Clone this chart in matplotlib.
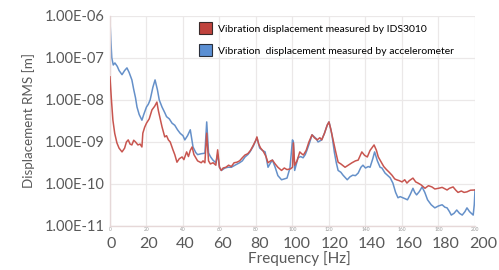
import matplotlib
matplotlib.use('Agg')
import matplotlib.pyplot as plt
from matplotlib.patches import Patch

plt.rcParams['font.family'] = ['Lato', 'DejaVu Sans']

# frequency [Hz] / RMS displacement [m]
freq_ids = [0, 0.8, 1.6, 2.6, 3.8, 5, 6.6, 8, 9, 10,
            11, 12, 13, 14, 15.3, 16.5, 17.5, 18, 19, 20,
            21.5, 23, 24.5, 25.7, 26.5, 27.5, 28.5, 30, 31, 32,
            33, 34.5, 35.5, 36.7, 38, 39.5, 40.5, 42, 43, 44,
            45, 46, 47, 48, 50, 51, 52, 53, 54, 55,
            56.5, 58, 59, 60, 61, 62, 63.5, 65, 66.5, 68,
            69.6, 71, 72.5, 74, 75.5, 77, 78.5, 80, 80.5, 81.5,
            82.5, 84, 85.5, 86.6, 88, 89, 90.5, 92, 94, 95.5,
            97, 99, 100, 100.5, 101.2, 102.5, 104, 105, 106, 107.5,
            109, 110.7, 112, 113.5, 115, 116, 117.5, 119, 120, 121,
            122, 123.5, 125, 126.5, 128.8, 130.5, 132.6, 134.5, 136, 138,
            139.5, 141, 142.5, 144.7, 146, 147, 148, 150, 151.5, 153,
            154.5, 156, 157, 158.5, 160, 161.5, 162.7, 164, 166, 167.5,
            168.8, 170.5, 172.6, 174.5, 176.4, 178, 180, 182, 184.7, 186,
            188, 189.5, 190.7, 192.5, 194, 195.6, 197.5, 200]
disp_ids = [3.55e-8, 1.0e-8, 3.3e-9, 1.6e-9, 9.5e-10, 7.1e-10, 5.8e-10, 7.1e-10, 1.0e-9, 1.12e-9,
            8.9e-10, 8.5e-10, 1.1e-9, 1.0e-9, 8.5e-10, 8.9e-10, 7.6e-10, 1.62e-9, 2.24e-9, 2.8e-9,
            3.55e-9, 5.8e-9, 7.1e-9, 8.9e-9, 5.6e-9, 3.55e-9, 2.3e-9, 1.32e-9, 1.41e-9, 1.12e-9,
            1.0e-9, 6.5e-10, 5.0e-10, 3.3e-10, 4.0e-10, 4.4e-10, 3.8e-10, 5.8e-10, 4.5e-10, 6.3e-10,
            7.6e-10, 5.0e-10, 4.2e-10, 3.55e-10, 3.2e-10, 3.55e-10, 3.2e-10, 1.62e-9, 3.55e-10, 3.0e-10,
            3.2e-10, 2.8e-10, 6.5e-10, 2.5e-10, 2.1e-10, 2.4e-10, 2.5e-10, 2.8e-10, 2.6e-10, 3.2e-10,
            3.3e-10, 3.55e-10, 4.2e-10, 4.9e-10, 5.25e-10, 6.3e-10, 8.3e-10, 1.12e-9, 1.32e-9, 8.9e-10,
            7.2e-10, 6.0e-10, 4.5e-10, 3.2e-10, 3.55e-10, 3.7e-10, 3.0e-10, 2.5e-10, 2.1e-10, 2.4e-10,
            2.2e-10, 2.3e-10, 2.5e-10, 9.5e-10, 2.8e-10, 3.55e-10, 5.8e-10, 5.25e-10, 4.9e-10, 6.3e-10,
            1.0e-9, 1.48e-9, 1.26e-9, 1.12e-9, 1.26e-9, 1.12e-9, 1.6e-9, 2.5e-9, 3.0e-9, 2.0e-9,
            1.26e-9, 6.3e-10, 3.3e-10, 3.0e-10, 2.5e-10, 2.8e-10, 3.2e-10, 3.55e-10, 3.7e-10, 5.8e-10,
            4.8e-10, 4.4e-10, 6.3e-10, 8.5e-10, 6.3e-10, 4.4e-10, 3.7e-10, 2.6e-10, 2.2e-10, 1.9e-10,
            1.62e-10, 1.32e-10, 1.26e-10, 1.2e-10, 1.12e-10, 1.26e-10, 1.05e-10, 1.2e-10, 1.38e-10, 1.12e-10,
            1.05e-10, 9.5e-11, 7.9e-11, 9.1e-11, 8.5e-11, 7.6e-11, 7.9e-11, 8.3e-11, 7.2e-11, 7.9e-11,
            8.5e-11, 7.1e-11, 6.3e-11, 6.8e-11, 6.3e-11, 6.5e-11, 7.1e-11, 7.2e-11]

freq_acc = [0, 0.5, 1, 1.8, 2.7, 4, 5, 6.6, 8, 9.3,
            10.5, 12, 13, 14, 14.8, 16, 17.5, 18.5, 20, 21,
            22, 23.5, 24.7, 26, 27, 28.5, 30, 31, 32.5, 34,
            35.5, 37, 38.5, 40, 41, 42.5, 44, 45.5, 47, 48,
            50, 52, 53, 54, 55, 56.4, 58, 59, 60, 61,
            63, 64.6, 66.5, 68.5, 71, 72.5, 74, 75.5, 76.7, 78.5,
            80, 80.5, 82, 83.5, 85, 86.6, 88, 89, 90.5, 92,
            94, 95.5, 97, 98.6, 100, 100.5, 101.2, 103, 104.5, 105.8,
            107, 108, 109.5, 110.7, 112, 113, 114, 116, 117.5, 119,
            120, 121, 121.6, 123, 124, 125, 126.5, 127.7, 129, 130,
            131.5, 133, 134.5, 136, 137.5, 138.6, 140, 141.5, 142.5, 144,
            145, 146.5, 148, 149, 150.7, 152, 153.5, 155, 156.5, 157.8,
            159, 160.5, 162, 163, 164.5, 166, 167, 168, 169.5, 171,
            172.5, 174, 176, 178, 180, 182, 183.5, 184.7, 186, 187,
            188.5, 190, 191.5, 193, 194.5, 195.6, 197, 199, 199.6, 200]
disp_acc = [7.9e-7, 2.5e-7, 1.0e-7, 6.8e-8, 7.6e-8, 6.3e-8, 5.0e-8, 4.0e-8, 5.0e-8, 5.8e-8,
            4.5e-8, 3.0e-8, 1.78e-8, 1.12e-8, 6.8e-9, 4.5e-9, 3.3e-9, 4.5e-9, 6.8e-9, 7.9e-9,
            1.0e-8, 2.0e-8, 3.0e-8, 1.74e-8, 1.0e-8, 6.8e-9, 5.0e-9, 4.0e-9, 3.55e-9, 2.8e-9,
            2.5e-9, 1.95e-9, 1.6e-9, 1.41e-9, 1.12e-9, 1.41e-9, 1.95e-9, 7.6e-10, 5.6e-10, 5.0e-10,
            5.25e-10, 5.4e-10, 3.0e-9, 5.5e-10, 4.5e-10, 3.7e-10, 3.2e-10, 5.0e-10, 2.5e-10, 2.1e-10,
            2.4e-10, 2.5e-10, 2.5e-10, 2.8e-10, 3.2e-10, 3.55e-10, 4.4e-10, 5.0e-10, 5.8e-10, 7.9e-10,
            1.12e-9, 1.26e-9, 7.2e-10, 6.3e-10, 5.8e-10, 2.5e-10, 3.2e-10, 3.7e-10, 2.5e-10, 1.58e-10,
            1.26e-10, 1.32e-10, 1.38e-10, 2.4e-10, 1.12e-9, 1.0e-9, 2.1e-10, 4.2e-10, 4.5e-10, 4.2e-10,
            5.0e-10, 6.5e-10, 1.0e-9, 1.48e-9, 1.32e-9, 1.2e-9, 1.0e-9, 1.12e-9, 1.6e-9, 2.5e-9,
            3.0e-9, 2.0e-9, 1.48e-9, 5.5e-10, 3.2e-10, 2.1e-10, 1.9e-10, 1.62e-10, 1.41e-10, 1.26e-10,
            1.48e-10, 1.62e-10, 1.58e-10, 1.82e-10, 2.5e-10, 2.8e-10, 2.4e-10, 2.6e-10, 2.5e-10, 4.0e-10,
            5.8e-10, 3.55e-10, 2.5e-10, 2.4e-10, 1.82e-10, 1.62e-10, 1.41e-10, 1.05e-10, 6.3e-11, 4.7e-11,
            5.0e-11, 4.7e-11, 4.4e-11, 4.2e-11, 5.6e-11, 7.9e-11, 6.3e-11, 5.5e-11, 6.6e-11, 8.5e-11,
            6.3e-11, 4.2e-11, 3.2e-11, 2.7e-11, 3.0e-11, 3.2e-11, 2.8e-11, 2.7e-11, 2.2e-11, 1.82e-11,
            2.0e-11, 2.4e-11, 2.0e-11, 1.82e-11, 2.2e-11, 2.7e-11, 2.2e-11, 1.82e-11, 3.2e-11, 7.2e-11]

xticks = [0, 20, 40, 60, 80, 100, 120, 140, 160, 180, 200]
yticks = [1e-11, 1e-10, 1e-9, 1e-8, 1e-7, 1e-6]
ylabels = ['1.00E-11', '1.00E-10', '1.00E-09', '1.00E-08', '1.00E-07', '1.00E-06']
labels = ['Vibration displacement measured by IDS3010',
          'Vibration  displacement measured by accelerometer']

red = '#c8554f'
blue = '#6590c9'
grey = '#595959'

fig = plt.figure(figsize=(4.99, 2.70), dpi=100)
ax = fig.add_axes([0.2204, 0.163, 0.7315, 0.778])

ax.plot(freq_ids, disp_ids, color=red, lw=1.1, zorder=3)
ax.plot(freq_acc, disp_acc, color=blue, lw=1.1, zorder=2)

ax.set_yscale('log')
ax.set_xlim(0, 200)
ax.set_ylim(1e-11, 1e-6)
ax.set_yticks(yticks, ylabels)
ax.minorticks_off()
ax.tick_params(axis='y', length=0, pad=4, labelsize=10.5, labelcolor=grey)
ax.set_xticks(xticks, [str(t) for t in xticks])
ax.tick_params(axis='x', length=0, pad=1, labelsize=3.5, labelcolor='#999999')
ax.grid(True, color='#ebe8e8', lw=0.9)
for s in ['top', 'right']:
    ax.spines[s].set_visible(False)
for s in ['left', 'bottom']:
    ax.spines[s].set_color('#e6d8d8')
    ax.spines[s].set_linewidth(1.0)

# the large frequency labels sit a little off the grid, spread slightly wider
for t in xticks:
    ax.text(t * 1.019 + 0.6, -0.052, str(t), transform=ax.get_xaxis_transform(),
            ha='center', va='top', fontsize=11.5, color=grey, clip_on=False)

ax.text(0.52, -0.118, 'Frequency [Hz]', transform=ax.transAxes, ha='center',
        va='top', fontsize=11, color=grey)
ax.set_ylabel('Displacement RMS [m]', fontsize=9.6, color=grey, labelpad=7)

handles = [Patch(facecolor='#c0433d', edgecolor='#3a2a2a', lw=0.8),
           Patch(facecolor='#5b8fd3', edgecolor='#2a2f3a', lw=0.8)]
ax.legend(handles, labels, loc='upper left', bbox_to_anchor=(0.233, 0.99),
          frameon=False, fontsize=7.5, handlelength=1.25, handleheight=1.35,
          handletextpad=0.55, labelspacing=1.0, borderaxespad=0)

fig.savefig('out.png', dpi=100)
